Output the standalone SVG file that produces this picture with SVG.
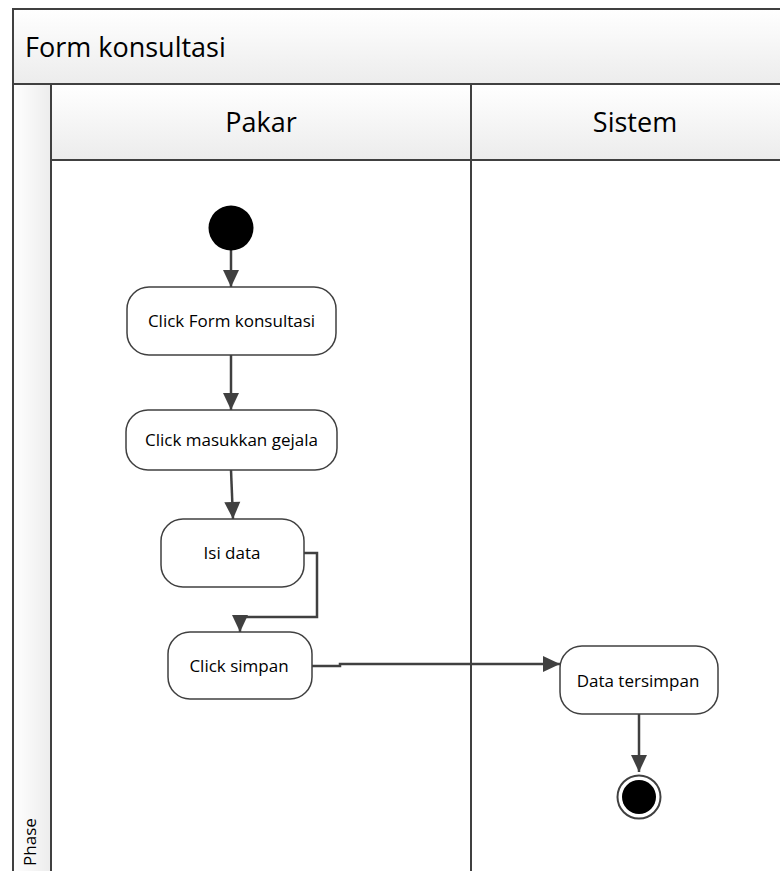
<svg xmlns="http://www.w3.org/2000/svg" width="780" height="871" viewBox="0 0 780 871">
<defs>
<linearGradient id="hdr" x1="0" y1="0" x2="0" y2="1">
<stop offset="0" stop-color="#ffffff"/><stop offset="1" stop-color="#ececec"/>
</linearGradient>
<linearGradient id="ph" x1="0" y1="0" x2="1" y2="0">
<stop offset="0" stop-color="#ffffff"/><stop offset="1" stop-color="#ececec"/>
</linearGradient>
<marker id="arr" markerUnits="userSpaceOnUse" markerWidth="20" markerHeight="20" viewBox="0 0 20 20" refX="18" refY="10" orient="auto">
<path d="M1,2 L18,10 L1,18 Z" fill="#404040"/>
</marker>
</defs>
<style>
.frame{fill:none;stroke:#404040;stroke-width:2}
.band{stroke:#404040;stroke-width:2}
.box{fill:#ffffff;stroke:#404040;stroke-width:1.5}
.lbl{font-family:"Open Sans","Liberation Sans",sans-serif;font-size:17px;fill:#000;text-anchor:middle}
.hd{font-family:"Open Sans","Liberation Sans",sans-serif;font-size:27px;fill:#000}
.con{fill:none;stroke:#404040;stroke-width:2.5;marker-end:url(#arr)}
</style>
<rect width="780" height="871" fill="#ffffff"/>
<g id="pool">
<rect x="13" y="9" width="800" height="75" fill="url(#hdr)" class="band"/>
<text x="25" y="57" class="hd">Form konsultasi</text>
<rect x="13" y="84" width="38" height="820" fill="url(#ph)" class="band"/>
<text transform="translate(36,842) rotate(-90)" class="lbl">Phase</text>
</g>
<g id="lane-pakar">
<rect x="51" y="84" width="420" height="76" fill="url(#hdr)" class="band"/>
<text x="261" y="132" class="hd" text-anchor="middle">Pakar</text>
</g>
<g id="lane-sistem">
<rect x="471" y="84" width="340" height="76" fill="url(#hdr)" class="band"/>
<text x="635" y="132" class="hd" text-anchor="middle">Sistem</text>
</g>
<g id="lines">
<line x1="471" y1="160" x2="471" y2="871" stroke="#404040" stroke-width="2"/>
<rect x="13" y="9" width="800" height="900" class="frame"/>
</g>
<g id="connectors">
<path class="con" d="M231,250 V287"/>
<path class="con" d="M231,355 V410"/>
<path class="con" d="M231,470 L233,519"/>
<path class="con" d="M304,553 H317 V617 H240 V632"/>
<path class="con" d="M312,666 H340 V664 H560"/>
<path class="con" d="M639,714 V772"/>
</g>
<g id="start"><circle cx="231" cy="228" r="22.5" fill="#000"/></g>
<g id="n1"><rect x="127" y="287" width="209" height="68" rx="22" class="box"/><text x="231.5" y="327" class="lbl">Click Form konsultasi</text></g>
<g id="n2"><rect x="126" y="410" width="211" height="60" rx="22" class="box"/><text x="231.5" y="446" class="lbl">Click masukkan gejala</text></g>
<g id="n3"><rect x="161" y="519" width="143" height="68" rx="22" class="box"/><text x="232" y="559" class="lbl">Isi data</text></g>
<g id="n4"><rect x="168" y="632" width="144" height="67" rx="22" class="box"/><text x="239" y="672" class="lbl">Click simpan</text></g>
<g id="n5"><rect x="560" y="646" width="158" height="68" rx="22" class="box"/><text x="638" y="687" class="lbl">Data tersimpan</text></g>
<g id="end"><circle cx="639" cy="797" r="21.5" fill="#fff" stroke="#404040" stroke-width="2"/><circle cx="639" cy="797" r="17" fill="#000"/></g>
</svg>
